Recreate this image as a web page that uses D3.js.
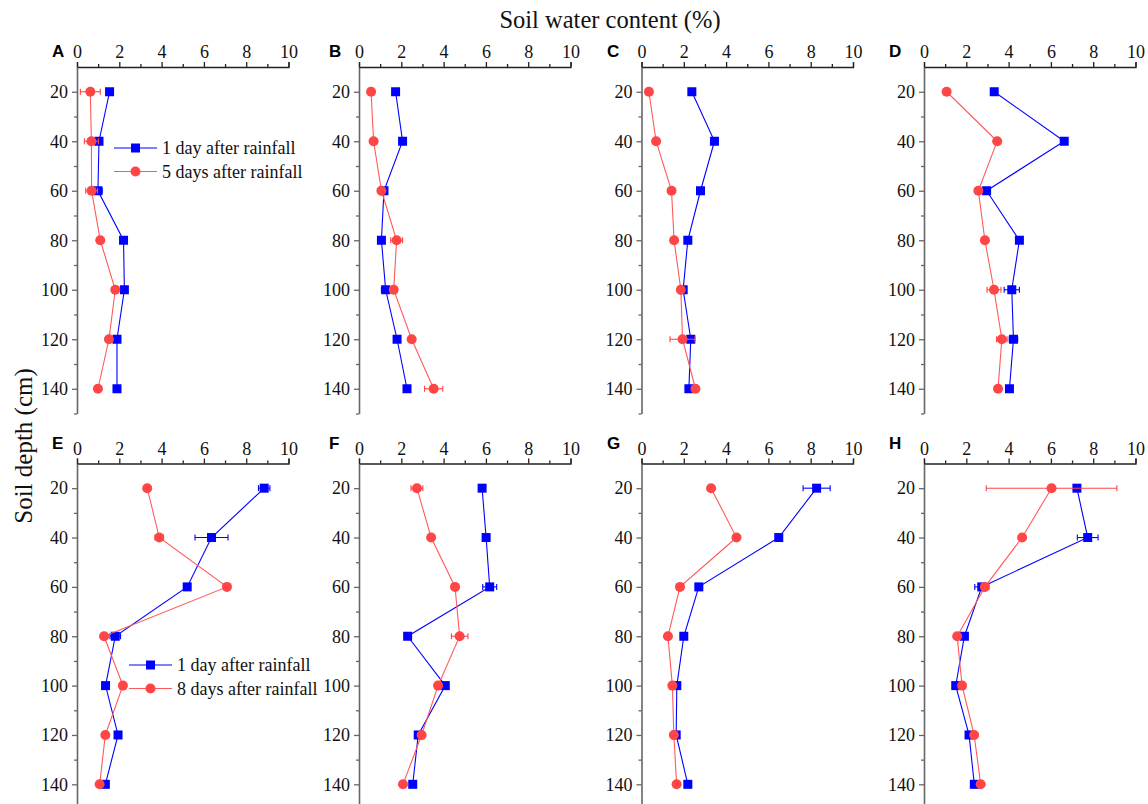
<!DOCTYPE html>
<html>
<head>
<meta charset="utf-8">
<script src="https://cdn.jsdelivr.net/npm/d3@7/dist/d3.min.js"></script>
<style>
  html, body { margin: 0; padding: 0; background: #fff; }
  svg { display: block; }
</style>
</head>
<body>
<svg id="chart" width="1148" height="804"></svg>
<script>
// ---------------- DATA ----------------
const depths = [20, 40, 60, 80, 100, 120, 140];
const xTicks = [0, 2, 4, 6, 8, 10];
const yTicks = [20, 40, 60, 80, 100, 120, 140];
const panelLabels = ["A", "B", "C", "D", "E", "F", "G", "H"];
const legendTop = ["1 day after rainfall", "5 days after rainfall"];
const legendBottom = ["1 day after rainfall", "8 days after rainfall"];

// 1 day after rainfall (blue) and later (red) values, % soil water content
const blueA = [1.54, 1.04, 0.99, 2.20, 2.24, 1.89, 1.89];
const redA  = [0.63, 0.68, 0.69, 1.10, 1.81, 1.51, 0.99];
const blueB = [1.73, 2.06, 1.18, 1.06, 1.26, 1.80, 2.27];
const redB  = [0.57, 0.69, 1.06, 1.78, 1.64, 2.49, 3.53];
const blueC = [2.38, 3.45, 2.79, 2.19, 1.97, 2.33, 2.24];
const redC  = [0.35, 0.69, 1.42, 1.54, 1.86, 1.94, 2.55];
const blueD = [3.32, 6.63, 2.96, 4.51, 4.15, 4.23, 4.04];
const redD  = [1.07, 3.46, 2.57, 2.88, 3.31, 3.68, 3.50];
const blueE = [8.85, 6.36, 5.21, 1.81, 1.35, 1.94, 1.34];
const redE  = [3.32, 3.89, 7.09, 1.28, 2.17, 1.34, 1.07];
const blueF = [5.82, 6.01, 6.18, 2.30, 4.08, 2.80, 2.54];
const redF  = [2.74, 3.41, 4.54, 4.76, 3.74, 2.96, 2.08];
const blueG = [8.28, 6.49, 2.71, 2.00, 1.67, 1.64, 2.19];
const redG  = [3.29, 4.49, 1.82, 1.25, 1.46, 1.53, 1.66];
const blueH = [7.23, 7.74, 2.73, 1.91, 1.50, 2.13, 2.38];
const redH  = [6.03, 4.64, 2.88, 1.57, 1.80, 2.37, 2.68];

// standard errors
const errBlueA = [0.10, 0.15, 0.20, 0.10, 0.10, 0.10, 0.05];
const errRedA  = [0.47, 0.33, 0.28, 0.10, 0.10, 0.10, 0.05];
const errBlueB = [0.10, 0.10, 0.10, 0.05, 0.20, 0.10, 0.10];
const errRedB  = [0.05, 0.05, 0.10, 0.28, 0.10, 0.05, 0.43];
const errBlueC = [0.05, 0.10, 0.10, 0.10, 0.10, 0.10, 0.05];
const errRedC  = [0.05, 0.05, 0.05, 0.05, 0.10, 0.59, 0.10];
const errBlueD = [0.10, 0.12, 0.10, 0.10, 0.36, 0.20, 0.05];
const errRedD  = [0.05, 0.10, 0.10, 0.10, 0.33, 0.25, 0.05];
const errBlueE = [0.27, 0.78, 0.10, 0.25, 0.10, 0.10, 0.05];
const errRedE  = [0.05, 0.20, 0.05, 0.05, 0.05, 0.05, 0.10];
const errBlueF = [0.10, 0.05, 0.33, 0.10, 0.10, 0.10, 0.05];
const errRedF  = [0.28, 0.05, 0.05, 0.39, 0.10, 0.10, 0.05];
const errBlueG = [0.64, 0.10, 0.15, 0.05, 0.10, 0.10, 0.05];
const errRedG  = [0.05, 0.05, 0.05, 0.05, 0.05, 0.05, 0.05];
const errBlueH = [0.10, 0.49, 0.33, 0.15, 0.05, 0.10, 0.05];
const errRedH  = [3.09, 0.05, 0.10, 0.10, 0.05, 0.10, 0.05];

const panels = [
  { label: "A", blue: blueA, red: redA, eb: errBlueA, er: errRedA, legend: legendTop },
  { label: "B", blue: blueB, red: redB, eb: errBlueB, er: errRedB },
  { label: "C", blue: blueC, red: redC, eb: errBlueC, er: errRedC },
  { label: "D", blue: blueD, red: redD, eb: errBlueD, er: errRedD },
  { label: "E", blue: blueE, red: redE, eb: errBlueE, er: errRedE, legend: legendBottom },
  { label: "F", blue: blueF, red: redF, eb: errBlueF, er: errRedF },
  { label: "G", blue: blueG, red: redG, eb: errBlueG, er: errRedG },
  { label: "H", blue: blueH, red: redH, eb: errBlueH, er: errRedH }
];

// ---------------- LAYOUT ----------------
const svg = d3.select("#chart");
const BLUE = "#0000ff", RED = "#ff4545", RED_LINE = "#ff5a5a";
const serif = "'Liberation Serif', 'Times New Roman', serif";
const sans = "'Liberation Sans', Arial, sans-serif";

const colX = [77, 359, 641.5, 924];
const plotW = 211.5;
const rowTop = [67, 463.5];
const rowBottom = [413.5, 809];
const letterX = [52, 329, 607, 889];
const letterDy = [10, 15];

svg.append("text")
  .attr("x", 610).attr("y", 28)
  .attr("text-anchor", "middle")
  .style("font-family", serif).style("font-size", "24.5px").attr("fill", "#111")
  .text("Soil water content (%)");

svg.append("text")
  .attr("transform", "translate(32,446) rotate(-90)")
  .attr("text-anchor", "middle")
  .style("font-family", serif).style("font-size", "25px").attr("fill", "#111")
  .text("Soil depth (cm)");

panels.forEach((p, i) => {
  const col = i % 4, row = Math.floor(i / 4);
  const x0 = colX[col], top = rowTop[row], bot = rowBottom[row];
  const x = d3.scaleLinear().domain([0, 10]).range([x0, x0 + plotW]);
  const y = d3.scaleLinear().domain([10, 150]).range([top, bot]);
  const g = svg.append("g");

  // top x axis
  const xAxis = d3.axisTop(x).tickValues(xTicks).tickFormat(d3.format("d")).tickSize(5).tickPadding(4);
  const gx = g.append("g").attr("transform", `translate(0,${top})`).call(xAxis);
  gx.select(".domain").attr("stroke", "#222").attr("stroke-width", 1.3);
  gx.selectAll(".tick line").attr("stroke", "#222").attr("stroke-width", 1.3);
  gx.selectAll(".tick text").style("font-family", serif).style("font-size", "18px").attr("fill", "#111");
  const xMinor = d3.axisTop(x).tickValues([1, 3, 5, 7, 9]).tickFormat("").tickSize(3);
  const gxm = g.append("g").attr("transform", `translate(0,${top})`).call(xMinor);
  gxm.select(".domain").remove();
  gxm.selectAll(".tick line").attr("stroke", "#222").attr("stroke-width", 1.3);

  // left y axis
  const yAxis = d3.axisLeft(y).tickValues(yTicks).tickFormat(d3.format("d")).tickSize(5).tickPadding(4).tickSizeOuter(0);
  const gy = g.append("g").attr("transform", `translate(${x0},0)`).call(yAxis);
  gy.select(".domain").attr("stroke", "#666").attr("stroke-width", 1.6);
  gy.selectAll(".tick line").attr("stroke", "#666").attr("stroke-width", 1.3);
  gy.selectAll(".tick text").style("font-family", serif).style("font-size", "18px").attr("fill", "#111");
  const yMinor = d3.axisLeft(y).tickValues([30, 50, 70, 90, 110, 130, 150]).tickFormat("").tickSize(3).tickSizeOuter(0);
  const gym = g.append("g").attr("transform", `translate(${x0},0)`).call(yMinor);
  gym.select(".domain").remove();
  gym.selectAll(".tick line").attr("stroke", "#666").attr("stroke-width", 1.3);

  // panel letter
  g.append("text")
    .attr("x", letterX[col]).attr("y", top - letterDy[row])
    .style("font-family", sans).style("font-weight", "bold").style("font-size", "17px").attr("fill", "#000")
    .text(p.label);

  const line = d3.line().x(d => x(d[0])).y(d => y(d[1]));

  const drawSeries = (vals, errs, color, lineColor, shape) => {
    const pts = vals.map((v, k) => [v, depths[k], errs[k]]);
    g.append("path").datum(pts).attr("d", line)
      .attr("fill", "none").attr("stroke", lineColor).attr("stroke-width", 1.1);
    const eg = g.append("g").attr("stroke", color).attr("stroke-width", 1.1);
    pts.forEach(d => {
      const xl = x(d[0] - d[2]), xr = x(d[0] + d[2]), yy = y(d[1]);
      eg.append("line").attr("x1", xl).attr("x2", xr).attr("y1", yy).attr("y2", yy);
      eg.append("line").attr("x1", xl).attr("x2", xl).attr("y1", yy - 3).attr("y2", yy + 3);
      eg.append("line").attr("x1", xr).attr("x2", xr).attr("y1", yy - 3).attr("y2", yy + 3);
    });
    if (shape === "square") {
      g.selectAll(null).data(pts).enter().append("rect")
        .attr("x", d => x(d[0]) - 4.5).attr("y", d => y(d[1]) - 4.5)
        .attr("width", 9).attr("height", 9).attr("fill", color);
    } else {
      g.selectAll(null).data(pts).enter().append("circle")
        .attr("cx", d => x(d[0])).attr("cy", d => y(d[1])).attr("r", 5)
        .attr("fill", color);
    }
  };

  drawSeries(p.blue, p.eb, BLUE, BLUE, "square");
  drawSeries(p.red, p.er, RED, RED_LINE, "circle");

  if (p.legend) {
    const lx = row === 0 ? 114 : 129;
    const ly = row === 0 ? 148 : 665;
    const lw = 43, gap = 23.5;
    [[BLUE, BLUE, "square"], [RED, RED_LINE, "circle"]].forEach((s, k) => {
      const yy = ly + k * gap;
      g.append("line").attr("x1", lx).attr("x2", lx + lw).attr("y1", yy).attr("y2", yy)
        .attr("stroke", s[1]).attr("stroke-width", 1.1);
      if (s[2] === "square") {
        g.append("rect").attr("x", lx + lw / 2 - 4.5).attr("y", yy - 4.5).attr("width", 9).attr("height", 9).attr("fill", s[0]);
      } else {
        g.append("circle").attr("cx", lx + lw / 2).attr("cy", yy).attr("r", 5).attr("fill", s[0]);
      }
      g.append("text").attr("x", lx + lw + 5).attr("y", yy + 6)
        .style("font-family", serif).style("font-size", "18px").attr("fill", "#111")
        .text(p.legend[k]);
    });
  }
});
</script>
</body>
</html>
